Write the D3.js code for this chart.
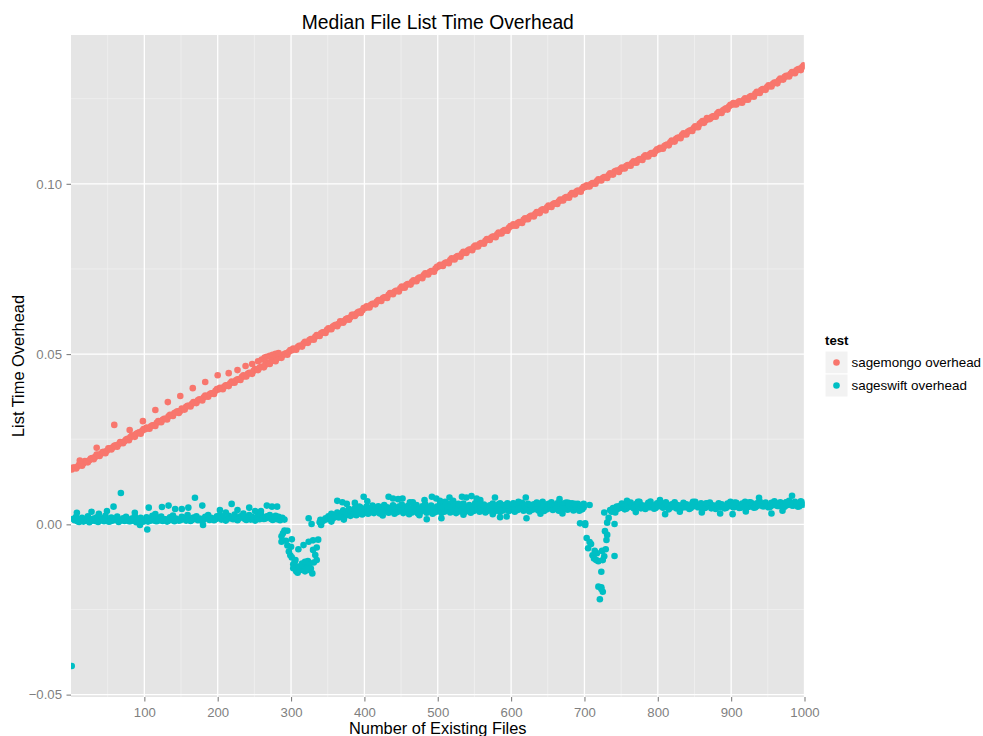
<!DOCTYPE html>
<html>
<head>
<meta charset="utf-8">
<script src="https://cdnjs.cloudflare.com/ajax/libs/d3/7.8.5/d3.min.js"></script>
<style>
  body { margin: 0; background: #fff; }
  svg { display: block; font-family: "Liberation Sans", Arial, Helvetica, sans-serif; }
</style>
</head>
<body>
<div id="chart"></div>
<script>
// median overhead, every 2 files (1, 3, 5, ... 999)
const fileStep = 2;

const mongoOverhead = [
  0.0161, 0.0167, 0.0167, 0.0164, 0.0170, 0.0175, 0.0176, 0.0172, 0.0179, 0.0186, 0.0185, 0.0182, 0.0188, 0.0193, 0.0195, 0.0191, 0.0198, 0.0205, 0.0204, 0.0201, 0.0207, 0.0212, 0.0213, 0.0209, 0.0216,
  0.0223, 0.0223, 0.0220, 0.0226, 0.0231, 0.0232, 0.0228, 0.0235, 0.0242, 0.0241, 0.0238, 0.0244, 0.0249, 0.0251, 0.0247, 0.0256, 0.0261, 0.0261, 0.0257, 0.0266, 0.0268, 0.0270, 0.0266, 0.0275, 0.0280,
  0.0279, 0.0284, 0.0282, 0.0281, 0.0288, 0.0291, 0.0291, 0.0289, 0.0298, 0.0303, 0.0301, 0.0300, 0.0307, 0.0310, 0.0310, 0.0308, 0.0317, 0.0322, 0.0321, 0.0318, 0.0327, 0.0329, 0.0332, 0.0327, 0.0333,
  0.0340, 0.0338, 0.0337, 0.0345, 0.0348, 0.0348, 0.0346, 0.0354, 0.0359, 0.0357, 0.0356, 0.0364, 0.0367, 0.0366, 0.0364, 0.0373, 0.0378, 0.0376, 0.0375, 0.0382, 0.0385, 0.0385, 0.0383, 0.0392, 0.0397,
  0.0396, 0.0401, 0.0398, 0.0397, 0.0405, 0.0408, 0.0408, 0.0406, 0.0414, 0.0419, 0.0417, 0.0416, 0.0423, 0.0426, 0.0426, 0.0424, 0.0433, 0.0438, 0.0435, 0.0434, 0.0442, 0.0445, 0.0444, 0.0442, 0.0451,
  0.0456, 0.0454, 0.0453, 0.0460, 0.0463, 0.0463, 0.0461, 0.0469, 0.0474, 0.0472, 0.0471, 0.0479, 0.0482, 0.0481, 0.0479, 0.0488, 0.0493, 0.0490, 0.0489, 0.0497, 0.0500, 0.0502, 0.0498, 0.0507, 0.0512,
  0.0511, 0.0516, 0.0514, 0.0513, 0.0521, 0.0524, 0.0524, 0.0522, 0.0531, 0.0536, 0.0534, 0.0533, 0.0541, 0.0544, 0.0544, 0.0542, 0.0551, 0.0556, 0.0554, 0.0553, 0.0561, 0.0564, 0.0564, 0.0562, 0.0571,
  0.0576, 0.0574, 0.0573, 0.0581, 0.0584, 0.0586, 0.0582, 0.0589, 0.0596, 0.0595, 0.0592, 0.0598, 0.0603, 0.0605, 0.0601, 0.0608, 0.0615, 0.0615, 0.0612, 0.0618, 0.0623, 0.0625, 0.0621, 0.0628, 0.0635,
  0.0635, 0.0640, 0.0638, 0.0637, 0.0645, 0.0648, 0.0648, 0.0646, 0.0654, 0.0659, 0.0657, 0.0656, 0.0664, 0.0667, 0.0667, 0.0665, 0.0674, 0.0679, 0.0677, 0.0676, 0.0683, 0.0686, 0.0686, 0.0684, 0.0693,
  0.0698, 0.0696, 0.0695, 0.0703, 0.0706, 0.0706, 0.0704, 0.0712, 0.0717, 0.0715, 0.0714, 0.0722, 0.0725, 0.0725, 0.0723, 0.0732, 0.0737, 0.0735, 0.0734, 0.0741, 0.0744, 0.0744, 0.0742, 0.0751, 0.0756,
  0.0757, 0.0762, 0.0760, 0.0759, 0.0766, 0.0769, 0.0769, 0.0767, 0.0776, 0.0781, 0.0779, 0.0778, 0.0785, 0.0788, 0.0788, 0.0786, 0.0795, 0.0800, 0.0798, 0.0797, 0.0804, 0.0807, 0.0807, 0.0805, 0.0814,
  0.0819, 0.0817, 0.0816, 0.0823, 0.0826, 0.0826, 0.0824, 0.0833, 0.0838, 0.0836, 0.0835, 0.0842, 0.0845, 0.0845, 0.0843, 0.0852, 0.0857, 0.0855, 0.0854, 0.0861, 0.0864, 0.0864, 0.0862, 0.0871, 0.0876,
  0.0876, 0.0881, 0.0878, 0.0877, 0.0885, 0.0888, 0.0887, 0.0885, 0.0894, 0.0899, 0.0897, 0.0896, 0.0903, 0.0906, 0.0906, 0.0904, 0.0912, 0.0917, 0.0915, 0.0914, 0.0922, 0.0925, 0.0924, 0.0922, 0.0931,
  0.0936, 0.0933, 0.0932, 0.0940, 0.0943, 0.0943, 0.0941, 0.0949, 0.0954, 0.0952, 0.0951, 0.0958, 0.0961, 0.0961, 0.0959, 0.0968, 0.0973, 0.0970, 0.0969, 0.0977, 0.0980, 0.0979, 0.0977, 0.0986, 0.0991,
  0.0991, 0.0996, 0.0993, 0.0992, 0.0999, 0.1002, 0.1002, 0.1000, 0.1008, 0.1013, 0.1011, 0.1010, 0.1017, 0.1020, 0.1019, 0.1017, 0.1026, 0.1031, 0.1028, 0.1027, 0.1036, 0.1038, 0.1039, 0.1035, 0.1043,
  0.1048, 0.1046, 0.1045, 0.1052, 0.1055, 0.1055, 0.1053, 0.1061, 0.1066, 0.1063, 0.1062, 0.1070, 0.1073, 0.1072, 0.1070, 0.1079, 0.1084, 0.1081, 0.1080, 0.1087, 0.1090, 0.1090, 0.1088, 0.1096, 0.1101,
  0.1101, 0.1106, 0.1104, 0.1103, 0.1111, 0.1114, 0.1115, 0.1113, 0.1122, 0.1127, 0.1125, 0.1124, 0.1132, 0.1135, 0.1136, 0.1134, 0.1143, 0.1148, 0.1146, 0.1145, 0.1153, 0.1156, 0.1157, 0.1155, 0.1164,
  0.1169, 0.1167, 0.1166, 0.1176, 0.1180, 0.1184, 0.1179, 0.1186, 0.1193, 0.1190, 0.1190, 0.1195, 0.1198, 0.1199, 0.1197, 0.1206, 0.1211, 0.1211, 0.1208, 0.1216, 0.1219, 0.1222, 0.1218, 0.1227, 0.1232,
  0.1232, 0.1237, 0.1234, 0.1233, 0.1239, 0.1242, 0.1240, 0.1238, 0.1246, 0.1251, 0.1248, 0.1247, 0.1255, 0.1258, 0.1258, 0.1256, 0.1265, 0.1270, 0.1268, 0.1267, 0.1275, 0.1278, 0.1278, 0.1276, 0.1284,
  0.1289, 0.1287, 0.1286, 0.1294, 0.1297, 0.1297, 0.1295, 0.1304, 0.1309, 0.1307, 0.1306, 0.1314, 0.1317, 0.1317, 0.1315, 0.1323, 0.1328, 0.1326, 0.1325, 0.1333, 0.1336, 0.1338, 0.1334, 0.1343, 0.1348
];

// points lying off the main band: [files, overhead]
const mongoExtra = [
  [12, 0.0187], [35, 0.0225], [59, 0.0292], [80, 0.0277], [98, 0.0303], [115, 0.0336], [132, 0.0359],
  [149, 0.0377], [166, 0.0400], [183, 0.0418], [200, 0.0438], [215, 0.0444], [227, 0.0453], [238, 0.0465],
  [247, 0.0471], [255, 0.0479], [260, 0.0484], [264, 0.0490], [267, 0.0492], [271, 0.0495], [275, 0.0498],
  [279, 0.0501], [283, 0.0503], [1000, 0.1346]
];

const swiftOverhead = [
  -0.0416, 0.0016, 0.0012, 0.0022, 0.0009, 0.0007, 0.0014, 0.0019, 0.0008, 0.0013,
  0.0011, 0.0024, 0.0006, 0.0010, 0.0013, 0.0017, 0.0010, 0.0021, 0.0007, 0.0012,
  0.0012, 0.0018, 0.0009, 0.0025, 0.0015, 0.0008, 0.0008, 0.0020, 0.0011, 0.0014,
  0.0013, 0.0023, 0.0007, 0.0011, 0.0012, 0.0018, 0.0010, 0.0022, 0.0014, 0.0009,
  0.0009, 0.0017, 0.0011, 0.0024, 0.0006, 0.0013, 0.0012, 0.0019, 0.0010, 0.0008,
  0.0013, 0.0021, 0.0008, 0.0016, 0.0011, 0.0025, 0.0014, 0.0010, 0.0009, 0.0019,
  0.0012, 0.0023, 0.0010, 0.0015, 0.0015, 0.0008, 0.0011, 0.0021, 0.0013, 0.0026,
  0.0009, 0.0017, 0.0014, 0.0011, 0.0012, 0.0022, 0.0016, 0.0019, 0.0011, 0.0027,
  0.0015, 0.0010, 0.0013, 0.0020, 0.0017, 0.0024, 0.0012, 0.0016, 0.0016, 0.0009,
  0.0014, 0.0022, 0.0018, 0.0027, 0.0013, 0.0019, 0.0017, 0.0012, 0.0015, 0.0024,
  0.0019, 0.0028, 0.0014, 0.0021, 0.0018, 0.0011, 0.0016, 0.0025, 0.0020, 0.0017,
  0.0015, 0.0029, 0.0019, 0.0012, 0.0017, 0.0024, 0.0021, 0.0026, 0.0016, 0.0013,
  0.0019, 0.0027, 0.0014, 0.0022, 0.0018, 0.0011, 0.0020, 0.0025, 0.0015, 0.0029,
  0.0019, 0.0016, 0.0017, 0.0024, 0.0021, 0.0027, 0.0016, 0.0013, 0.0019, 0.0025,
  0.0015, 0.0022, 0.0012, -0.0035, -0.0026, -0.0018, -0.0048, -0.0062, -0.0080, -0.0091,
  -0.0097, -0.0117, -0.0110, -0.0138, -0.0142, -0.0127, -0.0134, -0.0122, -0.0129, -0.0138,
  -0.0124, -0.0108, -0.0119, -0.0130, -0.0144, -0.0112, -0.0090, -0.0068, -0.0045, 0.0006,
  -0.0002, 0.0010, 0.0012, 0.0018, 0.0015, 0.0024, 0.0019, 0.0031, 0.0017, 0.0026,
  0.0022, 0.0035, 0.0020, 0.0029, 0.0025, 0.0041, 0.0023, 0.0034, 0.0028, 0.0045,
  0.0025, 0.0038, 0.0030, 0.0047, 0.0027, 0.0041, 0.0032, 0.0049, 0.0029, 0.0044,
  0.0034, 0.0052, 0.0031, 0.0047, 0.0036, 0.0055, 0.0033, 0.0049, 0.0038, 0.0053,
  0.0032, 0.0046, 0.0036, 0.0057, 0.0040, 0.0050, 0.0034, 0.0048, 0.0038, 0.0056,
  0.0031, 0.0045, 0.0036, 0.0052, 0.0040, 0.0058, 0.0033, 0.0047, 0.0037, 0.0054,
  0.0030, 0.0044, 0.0035, 0.0051, 0.0039, 0.0057, 0.0032, 0.0046, 0.0037, 0.0053,
  0.0041, 0.0059, 0.0034, 0.0048, 0.0038, 0.0055, 0.0031, 0.0046, 0.0036, 0.0052,
  0.0040, 0.0058, 0.0033, 0.0049, 0.0037, 0.0055, 0.0042, 0.0060, 0.0035, 0.0050,
  0.0039, 0.0056, 0.0033, 0.0047, 0.0038, 0.0054, 0.0042, 0.0061, 0.0036, 0.0051,
  0.0040, 0.0057, 0.0034, 0.0049, 0.0039, 0.0055, 0.0043, 0.0062, 0.0037, 0.0052,
  0.0041, 0.0058, 0.0035, 0.0050, 0.0040, 0.0056, 0.0044, 0.0061, 0.0038, 0.0053,
  0.0042, 0.0059, 0.0036, 0.0051, 0.0041, 0.0057, 0.0045, 0.0062, 0.0039, 0.0054,
  0.0043, 0.0060, 0.0037, 0.0052, 0.0042, 0.0058, 0.0046, 0.0063, 0.0040, 0.0055,
  0.0044, 0.0060, 0.0038, 0.0053, 0.0043, 0.0059, 0.0047, 0.0064, 0.0041, 0.0056,
  0.0045, 0.0061, 0.0039, 0.0054, 0.0044, 0.0060, 0.0048, 0.0065, 0.0042, 0.0057,
  0.0046, 0.0062, 0.0040, 0.0055, 0.0045, 0.0061, 0.0049, 0.0064, 0.0043, 0.0058,
  0.0047, 0.0062, 0.0041, 0.0056, 0.0046, 0.0060, 0.0040, 0.0054, 0.0044, 0.0050,
  0.0003, -0.0040, -0.0070, -0.0052, -0.0058, -0.0091, -0.0100, -0.0083, -0.0085, -0.0108,
  -0.0220, -0.0190, -0.0198, -0.0094, -0.0073, -0.0031, 0.0019, 0.0042, 0.0037, 0.0048,
  0.0001, 0.0046, 0.0045, 0.0053, 0.0048, 0.0061, 0.0052, 0.0044, 0.0046, 0.0058,
  0.0051, 0.0064, 0.0055, 0.0047, 0.0049, 0.0060, 0.0053, 0.0066, 0.0047, 0.0056,
  0.0052, 0.0045, 0.0056, 0.0063, 0.0050, 0.0058, 0.0054, 0.0046, 0.0048, 0.0062,
  0.0053, 0.0067, 0.0057, 0.0049, 0.0051, 0.0061, 0.0055, 0.0044, 0.0049, 0.0059,
  0.0054, 0.0065, 0.0047, 0.0057, 0.0052, 0.0046, 0.0056, 0.0063, 0.0050, 0.0059,
  0.0054, 0.0045, 0.0048, 0.0061, 0.0053, 0.0066, 0.0057, 0.0050, 0.0051, 0.0062,
  0.0055, 0.0047, 0.0049, 0.0060, 0.0054, 0.0064, 0.0047, 0.0056, 0.0052, 0.0045,
  0.0056, 0.0062, 0.0050, 0.0059, 0.0054, 0.0047, 0.0048, 0.0061, 0.0053, 0.0066,
  0.0057, 0.0050, 0.0051, 0.0063, 0.0055, 0.0048, 0.0049, 0.0061, 0.0054, 0.0066,
  0.0058, 0.0052, 0.0052, 0.0064, 0.0056, 0.0049, 0.0050, 0.0062, 0.0055, 0.0067,
  0.0059, 0.0053, 0.0053, 0.0064, 0.0057, 0.0050, 0.0051, 0.0063, 0.0056, 0.0068,
  0.0060, 0.0054, 0.0054, 0.0065, 0.0058, 0.0051, 0.0052, 0.0064, 0.0057, 0.0069,
  0.0061, 0.0055, 0.0055, 0.0066, 0.0059, 0.0052, 0.0053, 0.0065, 0.0058, 0.0063
];

const swiftExtra = [
  [8, 0.0034], [28, 0.0037], [38, 0.0031], [49, 0.0039], [58, 0.0052], [68, 0.0092], [87, 0.0034],
  [94, -0.0002], [104, -0.0015], [106, 0.0049], [115, 0.0030], [124, 0.0051], [133, 0.0055], [142, 0.0045],
  [151, 0.0045], [160, 0.0049], [169, 0.0078], [179, 0.0055], [180, -0.0002], [203, 0.0042], [211, 0.0035],
  [219, 0.0060], [227, 0.0042], [235, 0.0032], [243, 0.0049], [251, 0.0039], [259, 0.0039], [267, 0.0055],
  [274, 0.0052], [281, 0.0052], [288, 0.0019], [291, 0.0014],
  [295, -0.0019], [287, -0.0051], [301, -0.0044], [300, -0.0066], [306, -0.0105], [303, -0.0129],
  [310, -0.0073], [317, -0.0061], [324, -0.0051], [330, -0.0047], [310, -0.0124], [315, -0.0115],
  [319, -0.0110], [330, -0.0075], [335, -0.0105], [324, -0.0134], [324, 0.0018], [328, 0.0001], [340, 0.0013],
  [363, 0.0069], [370, 0.0065], [376, 0.0060], [387, 0.0063], [393, 0.0052], [399, 0.0081], [404, 0.0068],
  [433, 0.0081], [439, 0.0076], [446, 0.0074], [452, 0.0076], [462, 0.0065], [466, 0.0065], [482, 0.0071],
  [492, 0.0081], [498, 0.0076], [503, 0.0069], [510, 0.0066], [516, 0.0079], [521, 0.0069], [528, 0.0060],
  [533, 0.0081], [539, 0.0079], [546, 0.0083], [551, 0.0062], [553, 0.0076], [558, 0.0071], [578, 0.0079],
  [585, 0.0062], [594, 0.0057], [603, 0.0062], [610, 0.0066], [620, 0.0079], [627, 0.0057], [636, 0.0062],
  [643, 0.0066], [666, 0.0074], [678, 0.0063], [687, 0.0060], [699, 0.0060], [707, 0.0057],
  [355, 0.0008], [372, 0.0014], [425, 0.0026], [475, 0.0027], [485, 0.0015], [505, 0.0018], [535, 0.0028],
  [575, 0.0030], [585, 0.0021], [594, 0.0023], [621, 0.0018], [640, 0.0031], [670, 0.0032], [694, 0.0003],
  [701, -0.0002], [714, -0.0078], [716, -0.0105], [725, -0.0105], [724, -0.0078], [730, -0.0046],
  [728, -0.0020], [731, 0.0005], [741, -0.0093], [727, 0.0035], [723, -0.0139], [719, -0.0183],
  [723, -0.0185], [742, 0.0035], [744, 0.0052],
  [758, 0.0069], [773, 0.0066], [790, 0.0067], [803, 0.0071], [811, 0.0065], [848, 0.0066], [866, 0.0062],
  [905, 0.0064], [925, 0.0065], [938, 0.0078], [960, 0.0063], [975, 0.0065], [983, 0.0084], [995, 0.0068],
  [770, 0.0036], [810, 0.0030], [830, 0.0037], [860, 0.0035], [885, 0.0032], [902, 0.0030], [920, 0.0038],
  [955, 0.0032], [970, 0.0040], [1000, 0.0058]
];

const seriesNames = ['sagemongo overhead', 'sageswift overhead'];
const xTicks = [100, 200, 300, 400, 500, 600, 700, 800, 900, 1000];
const xMinorTicks = [50, 150, 250, 350, 450, 550, 650, 750, 850, 950];
const yTicks = [-0.05, 0, 0.05, 0.10];
const yMinorTicks = [-0.025, 0.025, 0.075, 0.125];

const colors = ['#F8766D', '#00BFC4'];
const w = 983;
const h = 736;
const panel = { left: 71, right: 804.5, top: 35, bottom: 697 };

const files = d3.range(1, 1001, fileStep);
function toPoints(values, extra, series) {
  return values.map((v, i) => ({ files: files[i], overhead: v, series }))
    .concat(extra.map(d => ({ files: d[0], overhead: d[1], series })));
}
const points = toPoints(mongoOverhead, mongoExtra, 0)
  .concat(toPoints(swiftOverhead, swiftExtra, 1));

const svg = d3.select('#chart')
              .append('svg')
              .attr('width', w)
              .attr('height', h);

svg.append('rect').attr('width', w).attr('height', h).attr('fill', '#fff');

const xScale = d3.scaleLinear()
                 .domain([0, 1000])
                 .range([panel.left, panel.right]);

const yScale = d3.scaleLinear()
                 .domain([-0.0507, 0.1437])
                 .range([panel.bottom, panel.top]);

// panel + grid
svg.append('rect')
   .attr('x', panel.left)
   .attr('y', panel.top)
   .attr('width', panel.right - panel.left)
   .attr('height', panel.bottom - panel.top)
   .attr('fill', '#E5E5E5');

const grid = svg.append('g');
grid.selectAll('.xminor').data(xMinorTicks).enter().append('line')
    .attr('x1', d => xScale(d)).attr('x2', d => xScale(d))
    .attr('y1', panel.top).attr('y2', panel.bottom)
    .attr('stroke', '#F2F2F2').attr('stroke-width', 0.7);
grid.selectAll('.yminor').data(yMinorTicks).enter().append('line')
    .attr('y1', d => yScale(d)).attr('y2', d => yScale(d))
    .attr('x1', panel.left).attr('x2', panel.right)
    .attr('stroke', '#F2F2F2').attr('stroke-width', 0.7);
grid.selectAll('.xmajor').data(xTicks).enter().append('line')
    .attr('x1', d => xScale(d)).attr('x2', d => xScale(d))
    .attr('y1', panel.top).attr('y2', panel.bottom)
    .attr('stroke', '#fff').attr('stroke-width', 1.3);
grid.selectAll('.ymajor').data(yTicks).enter().append('line')
    .attr('y1', d => yScale(d)).attr('y2', d => yScale(d))
    .attr('x1', panel.left).attr('x2', panel.right)
    .attr('stroke', '#fff').attr('stroke-width', 1.3);

svg.append('clipPath')
   .attr('id', 'panel-clip')
   .append('rect')
   .attr('x', panel.left)
   .attr('y', panel.top)
   .attr('width', panel.right - panel.left)
   .attr('height', panel.bottom - panel.top);

svg.append('g')
   .attr('clip-path', 'url(#panel-clip)')
   .selectAll('circle')
   .data(points)
   .enter()
   .append('circle')
   .attr('cx', d => xScale(d.files))
   .attr('cy', d => yScale(d.overhead))
   .attr('r', 3.3)
   .attr('fill', d => colors[d.series]);

// axes
function styleAxis(g) {
  g.select('.domain').remove();
  g.attr('font-family', null).attr('font-size', 13.2);
  g.selectAll('line').attr('stroke', '#7F7F7F').attr('stroke-width', 1.1);
  g.selectAll('text').attr('fill', '#7F7F7F');
}

const xAxis = d3.axisBottom(xScale)
                .tickValues(xTicks)
                .tickSize(4.5)
                .tickPadding(6)
                .tickFormat(d3.format('d'));

const yAxis = d3.axisLeft(yScale)
                .tickValues(yTicks)
                .tickSize(4.5)
                .tickPadding(4.5)
                .tickFormat(d3.format('.2f'));

svg.append('g')
   .attr('transform', `translate(0, ${panel.bottom})`)
   .call(xAxis)
   .call(styleAxis);

svg.append('g')
   .attr('transform', `translate(${panel.left}, 0)`)
   .call(yAxis)
   .call(styleAxis);

// titles
svg.append('text')
   .attr('x', (panel.left + panel.right) / 2)
   .attr('y', 29)
   .attr('text-anchor', 'middle')
   .attr('font-size', 19.3)
   .text('Median File List Time Overhead');

svg.append('text')
   .attr('x', (panel.left + panel.right) / 2)
   .attr('y', 733.5)
   .attr('text-anchor', 'middle')
   .attr('font-size', 16.4)
   .text('Number of Existing Files');

svg.append('text')
   .attr('transform', `translate(24, ${(panel.top + panel.bottom) / 2}) rotate(-90)`)
   .attr('text-anchor', 'middle')
   .attr('font-size', 16.4)
   .text('List Time Overhead');

// legend
const legend = svg.append('g').attr('transform', 'translate(825, 330)');
legend.append('text')
      .attr('x', 0)
      .attr('y', 15)
      .attr('font-size', 13.2)
      .attr('font-weight', 'bold')
      .text('test');

const keySize = 23;
const keys = legend.selectAll('.key')
                   .data(seriesNames)
                   .enter()
                   .append('g')
                   .attr('class', 'key')
                   .attr('transform', (d, i) => `translate(0, ${21 + i * keySize})`);
keys.append('rect')
    .attr('width', keySize)
    .attr('height', keySize)
    .attr('fill', '#F2F2F2')
    .attr('stroke', '#fff')
    .attr('stroke-width', 1);
keys.append('circle')
    .attr('cx', keySize / 2)
    .attr('cy', keySize / 2)
    .attr('r', 3.3)
    .attr('fill', (d, i) => colors[i]);
keys.append('text')
    .attr('x', keySize + 3.5)
    .attr('y', keySize / 2 + 4.7)
    .attr('font-size', 13.4)
    .text(d => d);
</script>
</body>
</html>
